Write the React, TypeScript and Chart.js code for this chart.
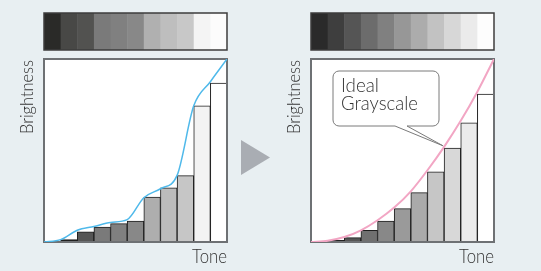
import React, { useEffect, useRef } from "react";
import { Chart, registerables } from "chart.js";

Chart.register(...registerables);

// ---- data ----
const toneSteps = [0, 1, 2, 3, 4, 5, 6, 7, 8, 9, 10];
const curveKnots = [0, 1, 2, 3, 4, 5, 6, 7, 8, 9, 10, 11];

const beforeBrightness = [null, 1.3, 5.5, 8.2, 10, 11.5, 24.5, 29.6, 36.3, 74.4, 86.9];
const beforeCurve = [0, 1.3, 6.4, 8.5, 10.7, 12.2, 24.2, 29.1, 36.4, 74.4, 87.6, 100];
const beforeStrip = ["#2a2a28", "#484846", "#525250", "#7a7a7a", "#808080", "#888888", "#b0b0b0", "#bebebe", "#c8c8c8", "#f4f4f4", "#fcfcfc"];
const beforeBarColors = ["#ffffff", "#222222", "#555555", "#7a7a7a", "#808080", "#888888", "#aeaeae", "#bcbcbc", "#c6c6c6", "#f3f3f3", "#ffffff"];

const afterBrightness = [null, 0.9, 2.4, 6.4, 11.5, 18.2, 27, 38.3, 51.3, 65.1, 80.8];
const afterCurve = [0, 0.7, 2.7, 6.4, 11.9, 18.8, 27.7, 39.2, 52, 66.2, 82.1, 100];
const afterStrip = ["#2a2a2a", "#3e3e3e", "#555555", "#6c6c6c", "#808080", "#979797", "#acacac", "#c2c2c2", "#d7d7d7", "#ebebeb", "#fdfdfd"];
const afterBarColors = ["#ffffff", "#333333", "#555555", "#707070", "#888888", "#9a9a9a", "#aaaaaa", "#c6c6c6", "#d8d8d8", "#ebebeb", "#ffffff"];

const yLabel = "Brightness";
const xLabel = "Tone";
const calloutLines = ["Ideal", "Grayscale"];
const calloutKnot = 8;

const FONT = "Lato, 'Noto Sans', sans-serif";

const panelDecor = {
  id: "panelDecor",
  beforeDatasetsDraw(chart: any) {
    const { ctx, chartArea: a } = chart;
    ctx.save();
    ctx.fillStyle = "#ffffff";
    ctx.fillRect(a.left, a.top, a.right - a.left, a.bottom - a.top);
    ctx.restore();
  },
  afterDatasetDraw(chart: any, args: any) {
    if (args.meta.type !== "bar") return;
    const { ctx, chartArea: a } = chart;
    ctx.save();
    ctx.strokeStyle = "#6e7174";
    ctx.lineWidth = 2;
    ctx.strokeRect(a.left, a.top, a.right - a.left, a.bottom - a.top);
    ctx.restore();
  },
  afterDraw(chart: any, _args: any, opts: any) {
    const { ctx, chartArea: a } = chart;
    ctx.save();
    // grayscale strip
    const strip: string[] = opts.strip || [];
    const sTop = 13, sBot = 50;
    const cw = (a.right - a.left) / strip.length;
    strip.forEach((c, i) => {
      ctx.fillStyle = c;
      ctx.fillRect(a.left + i * cw, sTop, cw + 0.5, sBot - sTop);
    });
    ctx.strokeStyle = "#3c3c3c";
    ctx.lineWidth = 1.5;
    ctx.strokeRect(a.left, sTop, a.right - a.left, sBot - sTop);

    // axis labels
    ctx.fillStyle = "#333333";
    ctx.save();
    ctx.translate(a.left - 11.5, a.top + 1);
    ctx.rotate(-Math.PI / 2);
    ctx.font = `300 17px ${FONT}`;
    ctx.textAlign = "right";
    ctx.textBaseline = "alphabetic";
    ctx.fillText(yLabel, 0, 0, 74);
    ctx.restore();

    ctx.font = `300 20px ${FONT}`;
    ctx.textAlign = "right";
    ctx.textBaseline = "alphabetic";
    ctx.fillText(xLabel, a.right, a.bottom + 20.5, 35);

    if (opts.arrow) {
      ctx.fillStyle = "#a9adb3";
      ctx.beginPath();
      ctx.moveTo(a.right + 14, a.top + 81);
      ctx.lineTo(a.right + 43, a.top + 98.5);
      ctx.lineTo(a.right + 14, a.top + 116);
      ctx.closePath();
      ctx.fill();
    }

    if (opts.callout) {
      const xs = chart.scales.x, ys = chart.scales.y;
      const tipX = xs.getPixelForValue(calloutKnot) - 1;
      const tipY = ys.getPixelForValue(afterCurve[calloutKnot]) - 1;
      const L = a.left + 22, R = a.left + 128, T = a.top + 12, B = a.top + 67, r = 6;
      const p1 = a.left + 84, p2 = a.left + 96;
      ctx.beginPath();
      ctx.moveTo(L + r, T);
      ctx.lineTo(R - r, T);
      ctx.arcTo(R, T, R, T + r, r);
      ctx.lineTo(R, B - r);
      ctx.arcTo(R, B, R - r, B, r);
      ctx.lineTo(p2, B);
      ctx.lineTo(tipX, tipY);
      ctx.lineTo(p1, B);
      ctx.lineTo(L + r, B);
      ctx.arcTo(L, B, L, B - r, r);
      ctx.lineTo(L, T + r);
      ctx.arcTo(L, T, L + r, T, r);
      ctx.closePath();
      ctx.fillStyle = "#ffffff";
      ctx.fill();
      ctx.strokeStyle = "#7a7a7a";
      ctx.lineWidth = 1;
      ctx.stroke();

      ctx.fillStyle = "#333333";
      ctx.font = `300 19px ${FONT}`;
      ctx.textAlign = "left";
      ctx.textBaseline = "alphabetic";
      ctx.fillText(calloutLines[0], a.left + 30, a.top + 32.5, 38);
      ctx.fillText(calloutLines[1], a.left + 30, a.top + 51, 77);
    }
    ctx.restore();
  },
};

function makeConfig(
  bars: (number | null)[],
  barColors: string[],
  curve: number[],
  lineColor: string,
  lineWidth: number,
  padding: any,
  decor: any
): any {
  return {
    type: "bar",
    data: {
      datasets: [
        {
          type: "line",
          data: curveKnots.map((k, i) => ({ x: k, y: curve[i] })),
          borderColor: lineColor,
          borderWidth: lineWidth,
          pointRadius: 0,
          cubicInterpolationMode: "monotone",
          fill: false,
          order: 0,
        },
        {
          type: "bar",
          data: toneSteps.map((t, i) => ({ x: t + 0.5, y: bars[i] })),
          backgroundColor: barColors,
          borderColor: "#1e1e1e",
          borderWidth: 1,
          barPercentage: 1,
          categoryPercentage: 1,
          order: 1,
        },
      ],
    },
    options: {
      responsive: false,
      animation: false,
      layout: { padding },
      scales: {
        x: { type: "linear", min: 0, max: 11, offset: false, display: false },
        y: { type: "linear", min: 0, max: 100, display: false },
      },
      plugins: {
        legend: { display: false },
        tooltip: { enabled: false },
        panelDecor: decor,
      },
    },
    plugins: [panelDecor],
  };
}

function Panel({ left, width, build }: { left: number; width: number; build: () => any }) {
  const ref = useRef<HTMLCanvasElement>(null);
  useEffect(() => {
    const chart = new Chart(ref.current as HTMLCanvasElement, build());
    return () => chart.destroy();
  }, []);
  return (
    <canvas
      ref={ref}
      width={width}
      height={271}
      style={{ position: "absolute", left, top: 0, width, height: 271 }}
    />
  );
}

export default function App() {
  return (
    <div
      style={{
        position: "fixed",
        left: 0,
        top: 0,
        width: 541,
        height: 271,
        background: "#e8eff2",
        overflow: "hidden",
      }}
    >
      <Panel
        left={0}
        width={270}
        build={() =>
          makeConfig(
            beforeBrightness,
            beforeBarColors,
            beforeCurve,
            "#4fb9ea",
            1.5,
            { left: 44, right: 43, top: 59, bottom: 29 },
            { strip: beforeStrip, arrow: true }
          )
        }
      />
      <Panel
        left={270}
        width={271}
        build={() =>
          makeConfig(
            afterBrightness,
            afterBarColors,
            afterCurve,
            "#f2a6c4",
            2,
            { left: 41, right: 47, top: 59, bottom: 29 },
            { strip: afterStrip, callout: true }
          )
        }
      />
    </div>
  );
}
